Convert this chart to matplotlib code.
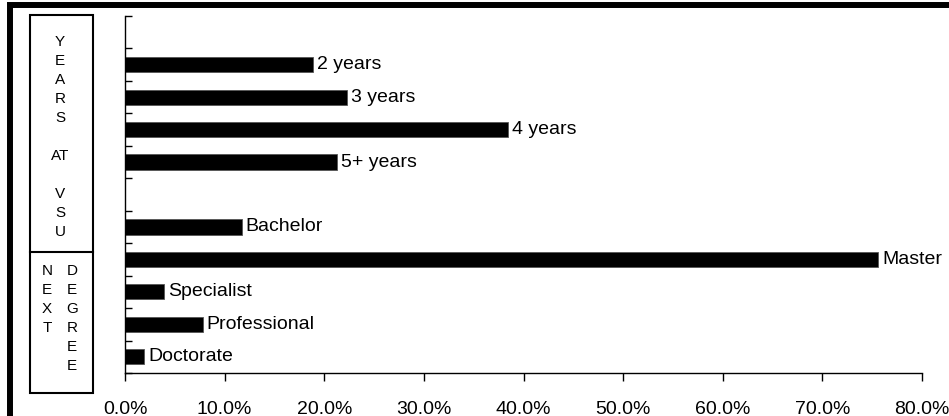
import numpy as np
import matplotlib
matplotlib.use('Agg')
import matplotlib.pyplot as plt
from matplotlib.patches import Rectangle
from matplotlib.lines import Line2D
from matplotlib.ticker import PercentFormatter

plt.rcParams['font.family'] = ['Liberation Sans', 'DejaVu Sans']

# ------------------------------- Data ---------------------------------
year_labels = ['2 years', '3 years', '4 years', '5+ years']
year_values = [18.9, 22.3, 38.4, 21.3]
degree_labels = ['Bachelor', 'Master', 'Specialist', 'Professional', 'Doctorate']
degree_values = [11.7, 75.6, 3.9, 7.8, 1.9]
x_ticks = [0, 10, 20, 30, 40, 50, 60, 70, 80]

# slots: blank, years..., blank, degrees...
labels = [''] + year_labels + [''] + degree_labels
values = [np.nan] + year_values + [np.nan] + degree_values
pos = np.arange(len(labels))

W, H = 949, 416
def fx(px): return px / W
def fy(py): return 1 - py / H

# ------------------------------ Plotting ------------------------------
fig = plt.figure(figsize=(W / 100, H / 100), dpi=100)
ax = fig.add_axes([fx(125), fy(373), fx(922) - fx(125), fy(16) - fy(373)])

ax.barh(pos, values, height=0.47, color='black', edgecolor='#555555', linewidth=0.6)
for p, v, lab in zip(pos, values, labels):
    if lab:
        ax.annotate(lab, (v, p), xytext=(3, 0), textcoords='offset points',
                    va='center', ha='left', fontsize=14)

ax.set_xlim(0, 80)
ax.set_ylim(len(labels) - 0.5, -0.5)
ax.set_xticks(x_ticks)
ax.xaxis.set_major_formatter(PercentFormatter(xmax=100, decimals=1))
ax.set_yticks(np.arange(len(labels) + 1) - 0.5)
ax.set_yticklabels([])
ax.tick_params(axis='y', direction='in', length=5, width=1)
ax.tick_params(axis='x', direction='out', length=6, width=1, pad=14, labelsize=14)
for s in ['top', 'right']:
    ax.spines[s].set_visible(False)
for s in ['left', 'bottom']:
    ax.spines[s].set_linewidth(1)

# Outer frame (runs off the right/bottom edge)
fig.patches.append(Rectangle((fx(10), fy(460)), fx(1100), fy(5.5) - fy(460),
                             transform=fig.transFigure, fill=False,
                             edgecolor='black', linewidth=4.3))

# Side box with vertical captions
fig.patches.append(Rectangle((fx(30), fy(393)), fx(93) - fx(30), fy(15) - fy(393),
                             transform=fig.transFigure, fill=False,
                             edgecolor='black', linewidth=1.5))
fig.lines.append(Line2D([fx(30), fx(93)], [fy(252), fy(252)],
                        transform=fig.transFigure, color='black', linewidth=1.5))

def column(text, x, y0, step=19):
    for i, ch in enumerate(text):
        if ch != ' ':
            fig.text(fx(x), fy(y0 + i * step), ch, ha='center', va='center', fontsize=11)

column(['Y', 'E', 'A', 'R', 'S', ' ', 'AT', ' ', 'V', 'S', 'U'], 60, 42)
column(list('NEXT'), 47, 271)
column(list('DEGREE'), 72, 271)

plt.savefig('out.png', dpi=100)
plt.close()
